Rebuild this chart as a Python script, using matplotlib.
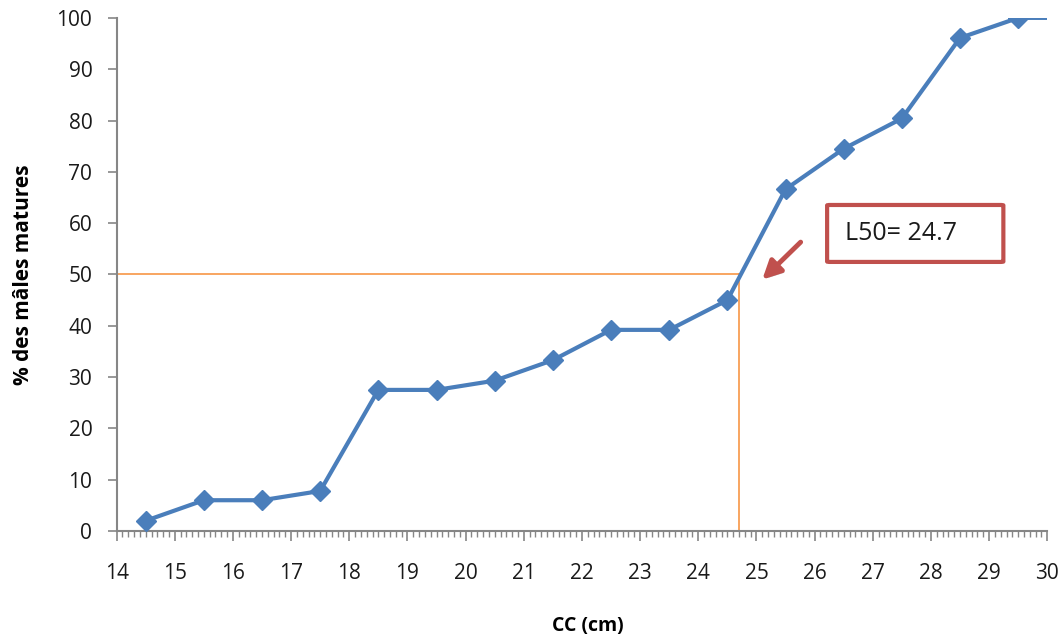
import matplotlib
matplotlib.use("Agg")
import matplotlib.pyplot as plt
from matplotlib.ticker import MultipleLocator
from matplotlib.patches import FancyBboxPatch
import matplotlib.patheffects as pe

# Data
cc_cm = [14.5, 15.5, 16.5, 17.5, 18.5, 19.5, 20.5, 21.5, 22.5, 23.5, 24.5, 25.5, 26.5, 27.5, 28.5, 29.5, 30.5]
pct_matures = [2, 6, 6, 7.8, 27.5, 27.5, 29.3, 33.3, 39.2, 39.2, 45, 66.6, 74.5, 80.4, 96.1, 100, 100]
l50 = 24.7
ref_pct = 50
label_l50 = "L50= 24.7"
xlabel = "CC (cm)"
ylabel = "% des mâles matures"

plt.rcParams['font.family'] = ['Open Sans', 'DejaVu Sans']

fig = plt.figure(figsize=(10.60, 6.39), dpi=100)
ax = fig.add_axes([0.110, 0.169, 0.878, 0.803])

line_col = '#4A7EBB'
ax.plot(cc_cm, pct_matures, color=line_col, lw=3, marker='D', ms=10,
        mfc=line_col, mec=line_col, clip_on=True, zorder=3)

orange = '#F79646'
ax.plot([14, l50], [ref_pct, ref_pct], color=orange, lw=1.2, zorder=2)
ax.plot([l50, l50], [0, ref_pct], color=orange, lw=1.2, zorder=2)

ax.set_xlim(14, 30)
ax.set_ylim(0, 100)
ax.xaxis.set_major_locator(MultipleLocator(1))
ax.xaxis.set_minor_locator(MultipleLocator(0.1))
ax.yaxis.set_major_locator(MultipleLocator(10))

for s in ['top', 'right']:
    ax.spines[s].set_visible(False)
for s in ['left', 'bottom']:
    ax.spines[s].set_color('#868686')
    ax.spines[s].set_linewidth(1.5)

ax.tick_params(axis='x', which='major', length=7, width=1.2, color='#868686',
               pad=16, labelsize=15, labelcolor='#1a1a1a')
ax.tick_params(axis='x', which='minor', length=4, width=1.0, color='#868686')
ax.tick_params(axis='y', which='major', length=6.5, width=1.2, color='#868686',
               pad=11, labelsize=15, labelcolor='#1a1a1a')

ax.set_xlabel(xlabel, fontsize=14, fontweight='bold', labelpad=21)
ax.xaxis.set_label_coords(0.506, -0.165)
ax.set_ylabel(ylabel, fontsize=15, fontweight='bold', labelpad=16)

# Annotation box
box = FancyBboxPatch((26.215, 52.44), 3.03, 11.1,
                     boxstyle='round,pad=0,rounding_size=0.05',
                     mutation_aspect=2.0,
                     fc='white', ec='#C0504D', lw=3, zorder=4)
ax.add_patch(box)
ax.text(26.52, 58.0, label_l50, fontsize=18, ha='left', va='center',
        color='#1a1a1a', zorder=5)

ax.annotate("", xy=(25.1, 49.0), xytext=(25.76, 56.3),
            arrowprops=dict(arrowstyle='-|>,head_length=1.1,head_width=0.55',
                            color='#C0504D', lw=3.5, shrinkA=0, shrinkB=0,
                            path_effects=[pe.SimplePatchShadow(offset=(1.5, -1.5), alpha=0.3), pe.Normal()]))

fig.savefig("out.png", dpi=100)
